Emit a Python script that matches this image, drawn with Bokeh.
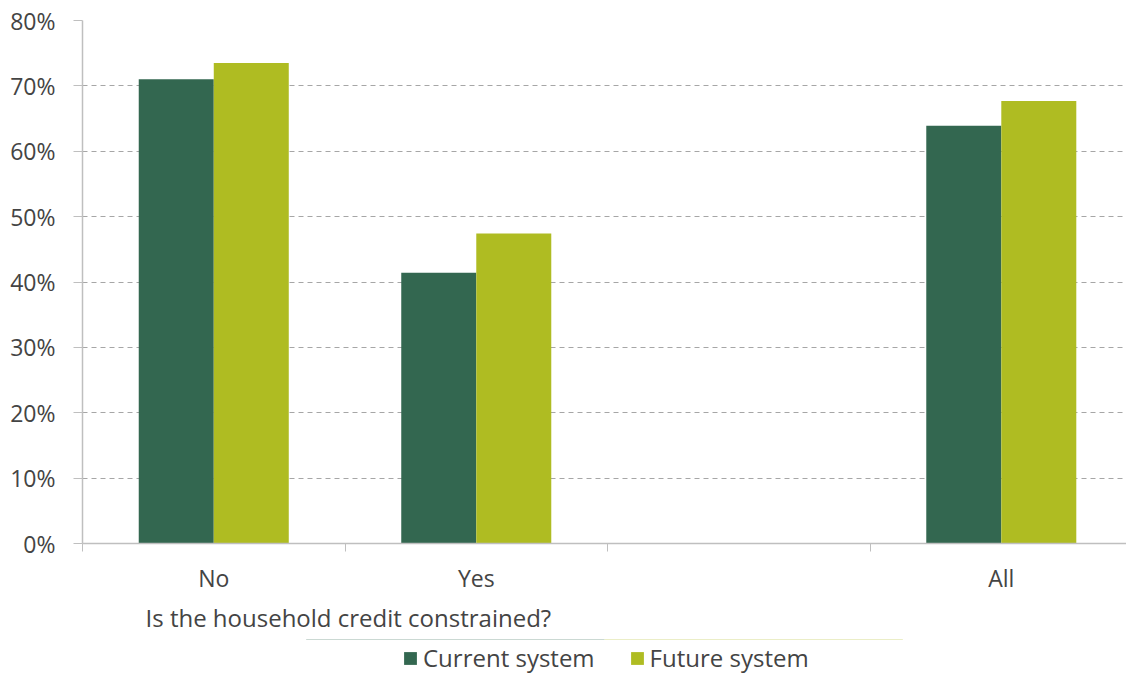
from bokeh.plotting import figure
from bokeh.layouts import column
from bokeh.models import Range1d, FixedTicker, Legend, LegendItem, Title, ColumnDataSource
from bokeh.embed import file_html
from bokeh.resources import INLINE

categories = ["No", "Yes", "", "All"]
current_system = [71.0, 41.4, None, 63.9]
future_system = [73.5, 47.4, None, 67.7]
y_ticks = [0, 10, 20, 30, 40, 50, 60, 70, 80]
y_tick_labels = ["0%", "10%", "20%", "30%", "40%", "50%", "60%", "70%", "80%"]
series_names = ["Current system", "Future system"]

FONT = "Open Sans"
FS = "23px"
FS_BIG = "24px"
TEXT = "#444444"
C_CUR = "#336750"
C_FUT = "#AFBC22"

idx = [i for i, v in enumerate(current_system) if v is not None]
src_cur = ColumnDataSource(dict(x=[i + 0.5 - 0.1429 for i in idx], top=[current_system[i] for i in idx]))
src_fut = ColumnDataSource(dict(x=[i + 0.5 + 0.1429 for i in idx], top=[future_system[i] for i in idx]))

p = figure(width=1126, height=639, output_backend="svg", toolbar_location=None,
           x_range=Range1d(0, 3.977), y_range=Range1d(0, 80),
           min_border_left=82, min_border_top=20, min_border_right=0, min_border_bottom=96)
p.outline_line_color = None

p.vbar(x="x", top="top", width=0.2857, source=src_cur, fill_color=C_CUR, line_color=None)
p.vbar(x="x", top="top", width=0.2857, source=src_fut, fill_color=C_FUT, line_color=None)

# x axis
xa = p.xaxis[0]
centers = [i + 0.5 for i, c in enumerate(categories) if c]
xa.ticker = FixedTicker(ticks=centers, minor_ticks=[0, 1, 2, 3, 4])
xa.major_label_overrides = {i + 0.5: c for i, c in enumerate(categories) if c}
xa.major_tick_line_color = None
xa.major_tick_out = 0
xa.major_tick_in = 0
xa.minor_tick_out = 8
xa.minor_tick_in = 0
xa.minor_tick_line_color = "#bfbfbf"
xa.axis_line_color = "#bfbfbf"
xa.axis_line_width = 1.5
xa.major_label_text_font = FONT
xa.major_label_text_font_size = FS
xa.major_label_text_color = TEXT
xa.major_label_standoff = 10

# y axis
ya = p.yaxis[0]
ya.ticker = FixedTicker(ticks=y_ticks)
ya.major_label_overrides = {t: l for t, l in zip(y_ticks, y_tick_labels)}
ya.major_tick_out = 9
ya.major_tick_in = 0
ya.minor_tick_line_color = None
ya.major_tick_line_color = "#bfbfbf"
ya.axis_line_color = "#bfbfbf"
ya.axis_line_width = 1.5
ya.major_label_text_font = FONT
ya.major_label_text_font_size = FS
ya.major_label_text_color = TEXT
ya.major_label_standoff = 18

p.xgrid.grid_line_color = None
p.ygrid.ticker = FixedTicker(ticks=y_ticks[1:])
p.ygrid.grid_line_color = "#a6a6a6"
p.ygrid.grid_line_dash = "5 4"
p.ygrid.grid_line_width = 1

t = Title(text="Is the household credit constrained?", align="left", offset=63, standoff=4,
          text_font=FONT, text_font_size=FS_BIG, text_color=TEXT, text_font_style="normal")
p.add_layout(t, "below")

# legend strip below the chart (bars are outside this strip's view range)
p2 = figure(width=1126, height=36, output_backend="svg", toolbar_location=None,
            x_range=Range1d(0, 1), y_range=Range1d(-2, -1), x_axis_type=None, y_axis_type=None,
            min_border_left=0, min_border_right=0, min_border_top=0, min_border_bottom=0)
p2.outline_line_color = None
p2.xgrid.visible = False
p2.ygrid.visible = False
l1 = p2.vbar(x="x", top="top", width=0.2857, source=src_cur, fill_color=C_CUR, line_color=None)
l2 = p2.vbar(x="x", top="top", width=0.2857, source=src_fut, fill_color=C_FUT, line_color=None)

legend = Legend(items=[LegendItem(label=series_names[0], renderers=[l1]),
                       LegendItem(label=series_names[1], renderers=[l2])],
                orientation="horizontal", location=(320, 1),
                label_text_font=FONT, label_text_font_size=FS_BIG, label_text_color=TEXT,
                label_height=24, glyph_width=16, glyph_height=16, spacing=34, padding=0, margin=0,
                border_line_color=None, background_fill_alpha=0, label_standoff=5)
p2.add_layout(legend, "center")

layout = column(p, p2, spacing=0)
open("out.html", "w").write(file_html(layout, INLINE))
